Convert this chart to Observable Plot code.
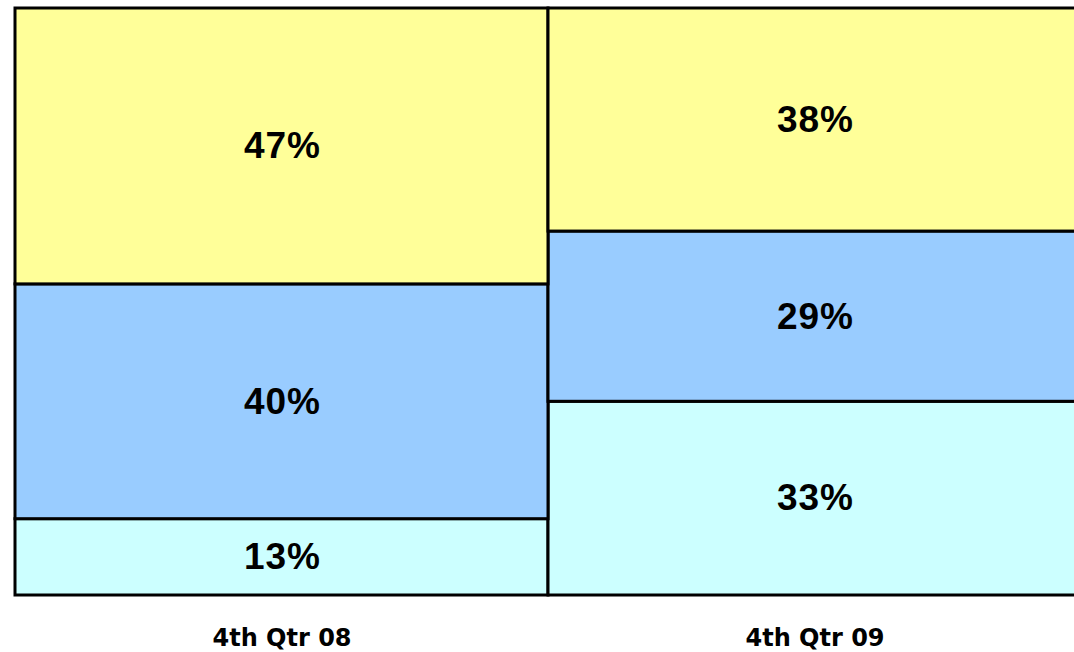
<!DOCTYPE html>
<html>
<head>
<meta charset="utf-8">
<script src="https://cdn.jsdelivr.net/npm/d3@7"></script>
<script src="https://cdn.jsdelivr.net/npm/@observablehq/plot@0.6"></script>
<style>
  html, body { margin: 0; padding: 0; background: #fff; overflow: hidden; }
  #chart svg { overflow: hidden; display: block; }
  #chart svg g.value-labels text { letter-spacing: 1px; }
</style>
</head>
<body>
<div id="chart"></div>
<script>
const quarters = ["4th Qtr 08", "4th Qtr 09"];
const segments = ["Bottom", "Middle", "Top"];
const q08Values = [13, 40, 47];
const q09Values = [33, 29, 38];
const segmentColors = ["#CCFFFF", "#99CCFF", "#FFFF99"];

const rows = [];
segments.forEach((s, i) => {
  rows.push({quarter: quarters[0], segment: s, value: q08Values[i]});
  rows.push({quarter: quarters[1], segment: s, value: q09Values[i]});
});
rows.sort((a, b) => segments.indexOf(a.segment) - segments.indexOf(b.segment));

const chart = Plot.plot({
  width: 1074,
  height: 652,
  marginTop: 8,
  marginBottom: 57,
  marginLeft: 14,
  marginRight: 0,
  style: {background: "#fff", fontFamily: "DejaVu Sans"},
  x: {domain: quarters, range: [14, 1081], padding: 0, label: null},
  y: {domain: [0, 100], range: [595, 8], axis: null},
  color: {domain: segments, range: segmentColors},
  marks: [
    Plot.barY(rows, Plot.stackY({x: "quarter", y: "value", fill: "segment", order: null, stroke: "#000", strokeWidth: 3, inset: 0})),
    Plot.text(rows, Plot.stackY({x: "quarter", y: "value", order: null, text: d => d.value + "%", fontSize: 37, fontWeight: "bold", fontFamily: "Liberation Sans, Arial, sans-serif", fill: "#000", dx: 0.5, className: "value-labels"})),
    Plot.axisX({tickSize: 0, tickPadding: 33, fontSize: 24, fontWeight: "bold", fontFamily: "DejaVu Sans", fill: "#000", label: null})
  ]
});
document.getElementById("chart").appendChild(chart);
</script>
</body>
</html>
